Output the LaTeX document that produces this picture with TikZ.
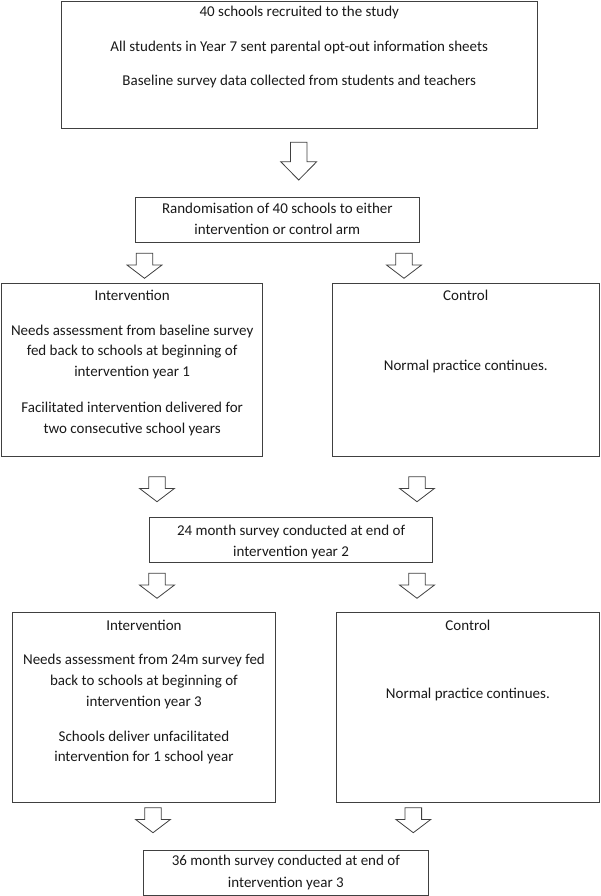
\documentclass[tikz,border=0pt]{standalone}
\usepackage{fontspec}
\setmainfont{Carlito}
\usetikzlibrary{calc}
\begin{document}
\begin{tikzpicture}[x=1pt,y=-1pt,
  box/.style={draw=black!75, line width=0.8pt, inner sep=0pt, outer sep=0pt, anchor=north west},
  txt/.style={font=\fontsize{15}{21}\selectfont, inner sep=0pt, anchor=base, text=black!90},
  arrowline/.style={draw=black!75, line width=0.8pt, fill=white, line join=miter},
  smallarrow/.pic={\path[arrowline] (-8.3,0) -- (8.3,0) -- (8.3,11.7) -- (17.5,11.7) -- (0,25) -- (-17.5,11.7) -- (-8.3,11.7) -- cycle;},
  bigarrow/.pic={\path[arrowline] (-8.3,0) -- (8.3,0) -- (8.3,19.4) -- (18,19.4) -- (0,37.7) -- (-18,19.4) -- (-8.3,19.4) -- cycle;}
]
\useasboundingbox (0,0) rectangle (600,896);

% boxes
\node[box, minimum width=475.5pt, minimum height=127pt] (b1) at (61.5,1) {};
\node[box, minimum width=283.3pt, minimum height=45.4pt] (b2) at (135.7,197.3) {};
\node[box, minimum width=261.3pt, minimum height=173.4pt] (b3) at (1.5,283.3) {};
\node[box, minimum width=266.5pt, minimum height=173.4pt] (b4) at (332.5,283.3) {};
\node[box, minimum width=283.5pt, minimum height=45.4pt] (b5) at (149.3,517.3) {};
\node[box, minimum width=262.7pt, minimum height=189.3pt] (b6) at (12.6,612.7) {};
\node[box, minimum width=262.2pt, minimum height=189.3pt] (b7) at (336.8,612.7) {};
\node[box, minimum width=284.3pt, minimum height=45.3pt] (b8) at (143.7,850) {};

% texts
\node[txt] (t11) at (b1.center |- 0,16.5) {40 schools recruited to the study};
\node[txt] (t12) at (b1.center |- 0,51.5) {All students in Year 7 sent parental opt-out information sheets};
\node[txt] (t13) at (b1.center |- 0,86) {Baseline survey data collected from students and teachers};

\node[txt] (t21) at (b2.center |- 0,213) {Randomisation of 40 schools to either};
\node[txt] (t22) at (b2.center |- 0,234.5) {intervention or control arm};

\node[txt] (t31) at (b3.center |- 0,300) {Intervention};
\node[txt] (t32) at (b3.center |- 0,335) {Needs assessment from baseline survey};
\node[txt] (t33) at (b3.center |- 0,355.5) {fed back to schools at beginning of};
\node[txt] (t34) at (b3.center |- 0,376) {intervention year 1};
\node[txt] (t35) at (b3.center |- 0,412.7) {Facilitated intervention delivered for};
\node[txt] (t36) at (b3.center |- 0,433.3) {two consecutive school years};

\node[txt] (t41) at (b4.center |- 0,300) {Control};
\node[txt] (t42) at (b4.center |- 0,370) {Normal practice continues.};

\node[txt] (t51) at (b5.center |- 0,535) {24 month survey conducted at end of};
\node[txt] (t52) at (b5.center |- 0,556.7) {intervention year 2};

\node[txt] (t61) at (b6.center |- 0,630) {Intervention};
\node[txt] (t62) at (b6.center |- 0,664.3) {Needs assessment from 24m survey fed};
\node[txt] (t63) at (b6.center |- 0,685) {back to schools at beginning of};
\node[txt] (t64) at (b6.center |- 0,706) {intervention year 3};
\node[txt] (t65) at (b6.center |- 0,741.7) {Schools deliver unfacilitated};
\node[txt] (t66) at (b6.center |- 0,761.7) {intervention for 1 school year};

\node[txt] (t71) at (b7.center |- 0,630) {Control};
\node[txt] (t72) at (b7.center |- 0,698.3) {Normal practice continues.};

\node[txt] (t81) at (b8.center |- 0,865) {36 month survey conducted at end of};
\node[txt] (t82) at (b8.center |- 0,887.7) {intervention year 3};

% block arrows
\coordinate (a1) at (298.7,142.3);
\coordinate (a2l) at (144.5,253.3);
\coordinate (a2r) at (404,253.3);
\coordinate (a3l) at (157,476.7);
\coordinate (a3r) at (417,476.7);
\coordinate (a4l) at (157,573.3);
\coordinate (a4r) at (417,573.3);
\coordinate (a5l) at (153,807.7);
\coordinate (a5r) at (413.3,807.7);
\pic at (a1) {bigarrow};
\pic at (a2l) {smallarrow};
\pic at (a2r) {smallarrow};
\pic at (a3l) {smallarrow};
\pic at (a3r) {smallarrow};
\pic at (a4l) {smallarrow};
\pic at (a4r) {smallarrow};
\pic at (a5l) {smallarrow};
\pic at (a5r) {smallarrow};
\end{tikzpicture}
\end{document}
